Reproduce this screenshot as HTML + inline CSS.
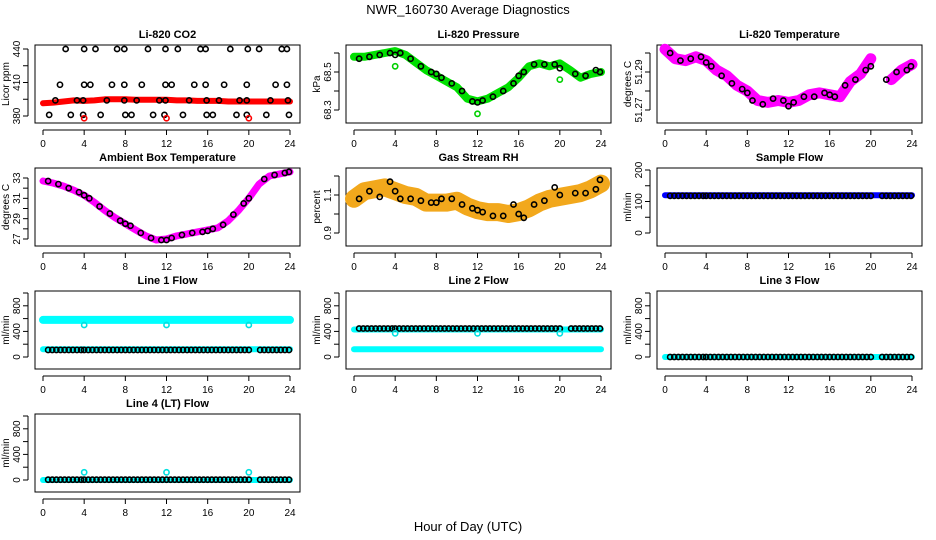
<!DOCTYPE html>
<html><head><meta charset="utf-8"><style>
html,body{margin:0;padding:0;background:#fff;}
svg{display:block;font-family:"Liberation Sans",Arial,sans-serif;}
</style></head><body>
<svg id="chart" width="936" height="540" viewBox="0 0 936 540">
<text x="468" y="14" font-size="13" text-anchor="middle">NWR_160730  Average Diagnostics</text>
<text x="468" y="531" font-size="13" text-anchor="middle">Hour of Day (UTC)</text>
</svg>
<script>
// ---- data ----
const bandHours = [0,1,2,3,4,5,6,7,8,9,10,11,12,13,14,15,16,17,18,19,20,21,22,23,24];
const dotHours = [0.5,1.5,2.5,3.5,4,4.5,5.5,6.5,7.5,8,8.5,9.5,10.5,11.5,12,12.5,13.5,14.5,15.5,16,16.5,17.5,18.5,19.5,20,21.5,22.5,23.5,23.9];
const flowHours = [0.5,0.9,1.3,1.7,2.1,2.5,2.9,3.3,3.7,4.0,4.4,4.8,5.2,5.6,6.0,6.4,6.8,7.2,7.6,8.0,8.4,8.8,9.2,9.6,10.0,10.4,10.8,11.2,11.6,12.0,12.4,12.8,13.2,13.6,14.0,14.4,14.8,15.2,15.6,16.0,16.4,16.8,17.2,17.6,18.0,18.4,18.8,19.2,19.6,20.0,21.1,21.5,21.9,22.3,22.7,23.1,23.5,23.9];
const outlierHours = [4,12,20];

const co2Band = [391.5,392,393,394,393.5,394,395,395,395,394.5,394.5,394.5,394.5,394,394,393.5,393.5,393.5,393,393,393,393,393,393,393];
const co2DotHours = [2.2,4.0,5.1,7.2,7.9,10.2,11.9,13.1,15.3,15.8,18.2,19.9,21.0,23.2,23.7,1.65,4.0,4.6,6.7,7.9,9.6,11.9,12.5,14.7,15.8,17.6,19.8,22.6,23.7,1.2,3.3,3.9,6.2,7.9,9.1,11.3,11.9,14.2,15.9,17.1,19.1,19.8,22.1,23.8,0.6,2.7,3.9,5.6,8.0,8.6,10.7,11.8,13.6,15.9,16.5,18.8,19.8,21.7,23.9];
const co2DotVals = [440,440,440,440,440,440,440,440,440,440,440,440,440,440,440,408,408,408,408,408,408,408,408,408,408,408,408,408,408,394,394,394,394,394,394,394,394,394,394,394,394,394,394,394,381,381,381,381,381,381,381,381,381,381,381,381,381,381,381];
const co2Outliers = [378,378,378];

const presBand = [68.58,68.58,68.59,68.60,68.61,68.59,68.55,68.51,68.48,68.45,68.42,68.36,68.345,68.36,68.39,68.42,68.47,68.53,68.545,68.53,68.545,68.51,68.47,68.49,68.50];
const presDots = [68.57,68.58,68.59,68.60,68.59,68.60,68.57,68.53,68.50,68.49,68.47,68.44,68.40,68.345,68.34,68.35,68.37,68.40,68.44,68.48,68.50,68.54,68.54,68.54,68.52,68.49,68.48,68.51,68.50];
const presOutliers = [68.53,68.28,68.46];

const tempBand = [51.302,51.297,51.296,51.298,51.296,51.291,51.288,51.283,51.280,51.275,51.274,51.275,51.274,51.275,51.278,51.279,51.278,51.277,51.285,51.289,51.297,null,51.286,51.291,51.294];
const tempDots = [51.300,51.296,51.297,51.298,51.295,51.293,51.288,51.284,51.281,51.279,51.275,51.273,51.276,51.275,51.272,51.274,51.277,51.277,51.279,51.278,51.277,51.283,51.286,51.291,51.293,51.286,51.290,51.291,51.293];

const ambBand = [32.7,32.5,32.2,31.8,31.3,30.6,29.8,29.1,28.5,27.9,27.3,26.9,27.0,27.3,27.5,27.7,27.9,28.1,28.8,29.8,31.0,32.4,33.2,33.4,33.6];
const ambDots = [32.7,32.4,32.0,31.6,31.3,31.0,30.2,29.5,28.8,28.5,28.3,27.6,27.1,26.9,26.9,27.1,27.4,27.6,27.7,27.8,28.0,28.4,29.4,30.5,31.0,32.9,33.3,33.5,33.6];

const rhBand = [1.08,1.12,1.13,1.14,1.12,1.10,1.09,1.06,1.06,1.06,1.07,1.04,1.02,1.01,1.01,1.00,1.01,1.03,1.06,1.08,1.09,1.10,1.11,1.13,1.16];
const rhDots = [1.08,1.12,1.09,1.17,1.12,1.08,1.08,1.07,1.06,1.06,1.08,1.08,1.05,1.03,1.02,1.01,0.99,0.99,1.05,1.00,0.98,1.05,1.07,1.14,1.10,1.11,1.11,1.13,1.18];

const sampleBand = 120;
const sampleDots = 118;
const line1Upper = 580, line1Lower = 120, line1Dots = 110, line1Outlier = 500;
const line2Upper = 430, line2Lower = 120, line2Dots = 445, line2Outlier = 370;
const line3Band = 0, line3Dots = 0;
const line4Band = 0, line4Dots = 5, line4Outlier = 120;

const hourTicks = [0,4,8,12,16,20,24];

// ---- helpers ----
const svg = document.getElementById('chart');
const NS = 'http://www.w3.org/2000/svg';
function mk(tag, attrs, parent){
  const e = document.createElementNS(NS, tag);
  for (const k in attrs) e.setAttribute(k, attrs[k]);
  (parent||svg).appendChild(e);
  return e;
}
function panelFrame(c, r){
  const L = 35 + 311*c, T = 45 + 123*r;
  return {L:L, R:L+265, T:T, B:T+78};
}
function makePanel(c, r, name, title, ylab, yticks, ylabels, v0, o0, v1, o1){
  const p = panelFrame(c, r);
  const x = h => p.L + 8 + h*247/24;
  const ys = v => p.T + o0 + (v - v0)*(o1 - o0)/(v1 - v0);
  const g = mk('g', {});
  
  
  const box = mk('rect', {x:p.L, y:p.T, width:p.R-p.L, height:p.B-p.T, fill:'none', stroke:'#000', 'stroke-width':1}, g);
  
  
  const t = mk('text', {x:(p.L+p.R)/2, y:p.T-7, 'font-size':11, 'font-weight':'bold', 'text-anchor':'middle'}, g);
  t.textContent = title;
  
  
  const yl = mk('text', {x:0, y:0, 'font-size':10, 'text-anchor':'middle', transform:'translate('+(p.L-26)+','+((p.T+p.B)/2)+') rotate(-90)'}, g);
  yl.textContent = ylab;
  
  
  const xa = mk('line', {x1:x(0), x2:x(24), y1:p.B+7, y2:p.B+7, stroke:'#000'}, g);
  
  
  hourTicks.forEach(h => {
    const tk = mk('line', {x1:x(h), x2:x(h), y1:p.B+7, y2:p.B+12, stroke:'#000'}, g);
    
    
    const tl = mk('text', {x:x(h), y:p.B+24, 'font-size':10, 'text-anchor':'middle'}, g);
    tl.textContent = h;
    
    
  });
  const ya = mk('line', {x1:p.L-7, x2:p.L-7, y1:ys(yticks[0]), y2:ys(yticks[yticks.length-1]), stroke:'#000'}, g);
  
  
  yticks.forEach((v, i) => {
    const tk = mk('line', {x1:p.L-12, x2:p.L-7, y1:ys(v), y2:ys(v), stroke:'#000'}, g);
    
    
    if (ylabels[i] !== '') {
      const tl = mk('text', {x:0, y:0, 'font-size':10, 'text-anchor':'middle', transform:'translate('+(p.L-15)+','+ys(v)+') rotate(-90)'}, g);
      tl.textContent = ylabels[i];
      
      
    }
  });
  return {p:p, g:g, x:x, y:ys};
}
function band(P, name, hours, vals, color, width){
  let d = '', pen = false;
  hours.forEach((h, i) => {
    const v = Array.isArray(vals) ? vals[i] : vals;
    if (v === null) { pen = false; return; }
    d += (pen ? 'L' : 'M') + P.x(h).toFixed(1) + ' ' + P.y(v).toFixed(1) + ' ';
    pen = true;
  });
  const e = mk('path', {d:d, fill:'none', stroke:color, 'stroke-width':width, 'stroke-linecap':'round', 'stroke-linejoin':'round'}, P.g);
  
  
}
function dots(P, name, hours, vals, color){
  hours.forEach((h, i) => {
    const v = Array.isArray(vals) ? vals[i] : vals;
    const e = mk('circle', {cx:P.x(h), cy:P.y(v), r:2.6, fill:'none', stroke:color, 'stroke-width':1.6}, P.g);
    
    
  });
}

let P;
P = makePanel(0, 0, 'co2', 'Li-820 CO2', 'Licor ppm', [380,395,410,425,440], ['380','','410','','440'], 440, 4, 380, 71);
band(P, 'co2-band', bandHours, co2Band, '#ff0000', 6);
dots(P, 'co2-point', co2DotHours, co2DotVals, '#000');
dots(P, 'co2-outlier', outlierHours, co2Outliers, '#ff0000');

P = makePanel(1, 0, 'pressure', 'Li-820 Pressure', 'kPa', [68.3,68.4,68.5,68.6], ['68.3','','68.5',''], 68.6, 8, 68.3, 65);
band(P, 'pressure-band', bandHours, presBand, '#00e000', 8);
dots(P, 'pressure-point', dotHours, presDots, '#000');
dots(P, 'pressure-outlier', outlierHours, presOutliers, '#00d000');

P = makePanel(2, 0, 'li820-temp', 'Li-820 Temperature', 'degrees C', [51.27,51.28,51.29,51.30], ['51.27','','51.29',''], 51.30, 8, 51.27, 65);
band(P, 'li820-temp-band', bandHours, tempBand, '#ff00ff', 11);
dots(P, 'li820-temp-point', dotHours, tempDots, '#000');

P = makePanel(0, 1, 'ambient', 'Ambient Box Temperature', 'degrees C', [27,28,29,30,31,32,33], ['27','','29','','31','','33'], 33, 10, 27, 71);
band(P, 'ambient-band', bandHours, ambBand, '#ff00ff', 7);
dots(P, 'ambient-point', dotHours, ambDots, '#000');

P = makePanel(1, 1, 'rh', 'Gas Stream RH', 'percent', [0.9,1.0,1.1,1.2], ['0.9','','1.1',''], 1.2, 8, 0.9, 65);
band(P, 'rh-band', bandHours, rhBand, '#f2a81c', 18);
dots(P, 'rh-point', dotHours, rhDots, '#000');

P = makePanel(2, 1, 'sample-flow', 'Sample Flow', 'ml/min', [0,50,100,150,200], ['0','','100','','200'], 200, 2, 0, 65);
band(P, 'sample-flow-band', bandHours, sampleBand, '#0000ff', 6);
dots(P, 'sample-flow-point', flowHours, sampleDots, '#000');

P = makePanel(0, 2, 'line1', 'Line 1 Flow', 'ml/min', [0,200,400,600,800,1000], ['0','','400','','800',''], 1000, 2, 0, 66);
band(P, 'line1-upper-band', bandHours, line1Upper, '#00ffff', 8);
band(P, 'line1-lower-band', bandHours, line1Lower, '#00ffff', 6);
dots(P, 'line1-point', flowHours, line1Dots, '#000');
dots(P, 'line1-outlier', outlierHours, line1Outlier, '#00e0e0');

P = makePanel(1, 2, 'line2', 'Line 2 Flow', 'ml/min', [0,200,400,600,800,1000], ['0','','400','','800',''], 1000, 2, 0, 66);
band(P, 'line2-upper-band', bandHours, line2Upper, '#00ffff', 6);
band(P, 'line2-lower-band', bandHours, line2Lower, '#00ffff', 6);
dots(P, 'line2-point', flowHours, line2Dots, '#000');
dots(P, 'line2-outlier', outlierHours, line2Outlier, '#00e0e0');

P = makePanel(2, 2, 'line3', 'Line 3 Flow', 'ml/min', [0,200,400,600,800,1000], ['0','','400','','800',''], 1000, 2, 0, 66);
band(P, 'line3-band', bandHours, line3Band, '#00ffff', 6);
dots(P, 'line3-point', flowHours, line3Dots, '#000');

P = makePanel(0, 3, 'line4', 'Line 4 (LT) Flow', 'ml/min', [0,200,400,600,800,1000], ['0','','400','','800',''], 1000, 2, 0, 66);
band(P, 'line4-band', bandHours, line4Band, '#00ffff', 6);
dots(P, 'line4-point', flowHours, line4Dots, '#000');
dots(P, 'line4-outlier', outlierHours, line4Outlier, '#00e0e0');
</script>
</body></html>
